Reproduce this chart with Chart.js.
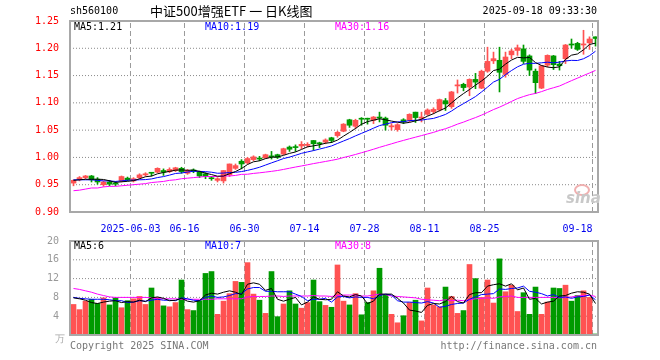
<!DOCTYPE html>
<html><head><meta charset="utf-8">
<script src="https://cdn.jsdelivr.net/npm/chart.js@4.4.1/dist/chart.umd.min.js"></script>
<style>
html,body{margin:0;padding:0;background:#fff;width:660px;height:360px;overflow:hidden;}
#wrap{position:relative;width:660px;height:360px;}
canvas{position:absolute;left:0;}
.t{position:absolute;font:10px "DejaVu Sans Mono",monospace;white-space:nowrap;line-height:12px;color:#000;}
</style></head><body>
<div id="wrap">
<canvas id="main" width="660" height="232" style="top:0px"></canvas>
<canvas id="vol" width="660" height="112" style="top:232px"></canvas>
<div class="t" style="left:70px;top:5px">sh560100</div>
<div class="t" style="left:150px;top:3px;font:13px 'Noto Sans CJK SC',sans-serif;line-height:16px">中证500增强ETF 一 日K线图</div>
<div class="t" style="right:63px;top:5px">2025-09-18 09:33:30</div>
<div class="t" style="left:74px;top:21px">MA5:1.21</div>
<div class="t" style="left:205px;top:21px;color:#0000ff">MA10:1.19</div>
<div class="t" style="left:335px;top:21px;color:#ff00ff">MA30:1.16</div>
<div class="t" style="left:74px;top:240px">MA5:6</div>
<div class="t" style="left:205px;top:240px;color:#0000ff">MA10:7</div>
<div class="t" style="left:335px;top:240px;color:#ff00ff">MA30:8</div>
<div class="t" style="left:55px;top:333px;color:#aaa">万</div>
<div class="t" style="left:70px;top:340px;color:#777">Copyright 2025 SINA.COM</div>
<div class="t" style="right:63px;top:340px;color:#777">http://finance.sina.com.cn</div>
<div style="position:absolute;left:574px;top:184px;width:12px;height:8px;border:2px solid #f0b0b0;border-radius:50%"></div>
<div class="t" style="left:566px;top:190px;font:italic bold 15px 'DejaVu Sans',sans-serif;line-height:16px;color:#c8c8c8">sina</div>
</div>
<script>
const tickIndex = [10,19,29,39,49,59,69,87];
const tickLabels = ['2025-06-03','06-16','06-30','07-14','07-28','08-11','08-25','09-18'];
const priceTicks = [0.90,0.95,1.00,1.05,1.10,1.15,1.20,1.25];
const volTicks = [0,4,8,12,16,20];

const open = [0.953,0.960,0.963,0.966,0.960,0.950,0.955,0.953,0.957,0.962,0.957,0.963,0.968,0.972,0.973,0.976,0.974,0.976,0.980,0.971,0.977,0.973,0.970,0.962,0.958,0.957,0.968,0.980,0.993,0.990,0.996,0.998,0.999,1.002,1.005,1.006,1.019,1.019,1.021,1.022,1.031,1.026,1.028,1.036,1.040,1.048,1.069,1.057,1.071,1.071,1.068,1.074,1.072,1.056,1.051,1.069,1.068,1.083,1.072,1.079,1.084,1.087,1.104,1.093,1.131,1.134,1.129,1.143,1.127,1.158,1.177,1.178,1.152,1.188,1.196,1.199,1.186,1.158,1.127,1.169,1.186,1.171,1.181,1.207,1.209,1.206,1.210,1.221];
const high = [0.959,0.965,0.967,0.967,0.963,0.957,0.958,0.956,0.966,0.964,0.963,0.970,0.972,0.972,0.981,0.979,0.981,0.982,0.982,0.978,0.979,0.975,0.972,0.965,0.963,0.976,0.988,0.988,0.996,1.000,1.003,1.002,1.006,1.011,1.006,1.017,1.021,1.023,1.029,1.027,1.031,1.028,1.034,1.037,1.048,1.062,1.070,1.070,1.073,1.072,1.075,1.083,1.074,1.062,1.062,1.071,1.080,1.083,1.083,1.089,1.091,1.107,1.108,1.121,1.142,1.136,1.144,1.154,1.160,1.202,1.193,1.202,1.193,1.198,1.206,1.206,1.188,1.162,1.169,1.188,1.187,1.176,1.207,1.217,1.211,1.233,1.221,1.221];
const low = [0.948,0.957,0.961,0.955,0.951,0.947,0.948,0.948,0.955,0.957,0.955,0.961,0.966,0.966,0.972,0.967,0.972,0.974,0.971,0.969,0.972,0.963,0.961,0.958,0.955,0.953,0.965,0.978,0.979,0.988,0.994,0.994,0.998,0.997,0.998,1.005,1.011,1.011,1.016,1.019,1.013,1.018,1.025,1.027,1.037,1.047,1.055,1.053,1.059,1.061,1.062,1.065,1.050,1.050,1.048,1.062,1.065,1.064,1.065,1.077,1.080,1.085,1.086,1.090,1.118,1.122,1.113,1.126,1.126,1.156,1.172,1.120,1.147,1.181,1.187,1.172,1.150,1.117,1.126,1.166,1.161,1.160,1.172,1.200,1.196,1.189,1.198,1.204];
const close = [0.958,0.963,0.966,0.959,0.955,0.955,0.951,0.951,0.965,0.959,0.961,0.968,0.970,0.971,0.980,0.973,0.978,0.981,0.974,0.976,0.975,0.966,0.965,0.961,0.961,0.976,0.988,0.985,0.988,0.998,1.001,0.997,1.005,1.001,1.000,1.016,1.015,1.018,1.024,1.024,1.025,1.025,1.032,1.031,1.046,1.061,1.059,1.068,1.070,1.070,1.074,1.072,1.059,1.058,1.060,1.065,1.079,1.073,1.074,1.087,1.088,1.106,1.098,1.120,1.133,1.128,1.143,1.138,1.158,1.176,1.181,1.156,1.184,1.195,1.201,1.176,1.160,1.137,1.168,1.187,1.170,1.168,1.206,1.206,1.198,1.208,1.217,1.218];
const ma5 = [0.958,0.959,0.960,0.960,0.9602,0.9596,0.9572,0.9542,0.9554,0.9562,0.9574,0.9608,0.9646,0.9658,0.9700,0.9724,0.9744,0.9766,0.9772,0.9764,0.9768,0.9744,0.9712,0.9686,0.9656,0.9658,0.9702,0.9742,0.9796,0.9870,0.9920,0.9938,0.9978,1.0004,1.0008,1.0038,1.0074,1.0100,1.0146,1.0194,1.0212,1.0232,1.0260,1.0274,1.0318,1.0390,1.0458,1.0530,1.0608,1.0656,1.0682,1.0708,1.0690,1.0666,1.0646,1.0628,1.0642,1.0670,1.0702,1.0756,1.0802,1.0856,1.0906,1.0998,1.1090,1.1170,1.1244,1.1324,1.1400,1.1486,1.1592,1.1618,1.1710,1.1784,1.1834,1.1824,1.1832,1.1738,1.1684,1.1656,1.1644,1.1660,1.1798,1.1874,1.1896,1.1972,1.2070,1.2094];
const ma10 = [0.959,0.959,0.959,0.959,0.958,0.957,0.957,0.956,0.957,0.9582,0.9585,0.9590,0.9594,0.9606,0.9631,0.9649,0.9676,0.9706,0.9715,0.9732,0.9746,0.9744,0.9739,0.9729,0.9710,0.9713,0.9723,0.9727,0.9741,0.9763,0.9789,0.9820,0.9860,0.9900,0.9939,0.9979,1.0006,1.0039,1.0075,1.0101,1.0125,1.0153,1.0180,1.0210,1.0256,1.0301,1.0345,1.0395,1.0441,1.0487,1.0536,1.0583,1.0610,1.0637,1.0651,1.0655,1.0675,1.0680,1.0684,1.0701,1.0715,1.0749,1.0788,1.0850,1.0923,1.0986,1.1050,1.1115,1.1199,1.1288,1.1381,1.1431,1.1517,1.1592,1.1660,1.1708,1.1725,1.1724,1.1734,1.1745,1.1734,1.1746,1.1768,1.1779,1.1776,1.1808,1.1865,1.1946];
const ma30 = [0.939,0.940,0.942,0.944,0.944,0.946,0.947,0.947,0.948,0.949,0.950,0.951,0.952,0.954,0.955,0.956,0.958,0.959,0.961,0.962,0.963,0.964,0.965,0.965,0.965,0.966,0.966,0.967,0.969,0.9692,0.9707,0.9718,0.9731,0.9745,0.9760,0.9780,0.9802,0.9824,0.9844,0.9865,0.9887,0.9906,0.9926,0.9946,0.9968,0.9998,1.0025,1.0054,1.0086,1.0117,1.0150,1.0185,1.0217,1.0249,1.0282,1.0312,1.0342,1.0371,1.0400,1.0430,1.0459,1.0495,1.0526,1.0566,1.0610,1.0647,1.0690,1.0730,1.0775,1.0825,1.0877,1.0921,1.0972,1.1026,1.1078,1.1116,1.1150,1.1173,1.1206,1.1245,1.1277,1.1309,1.1358,1.1407,1.1453,1.1501,1.1547,1.1595];

const volume = [6.5,5.4,7.2,7.6,6.7,7.9,6.4,7.9,5.8,7.3,7.7,8.2,6.5,10.0,8.0,6.2,6.0,6.9,11.7,5.4,5.2,7.3,13.1,13.5,4.4,7.2,8.8,11.4,11.2,15.4,8.7,7.4,4.6,13.5,3.9,6.6,9.4,6.6,5.7,6.9,11.7,7.1,6.3,5.9,14.9,7.2,6.4,8.8,4.3,6.9,9.4,14.2,8.6,4.4,2.6,4.1,6.9,7.4,3.0,10.0,6.4,6.0,10.2,8.2,4.6,5.2,15.0,12.0,8.0,11.7,6.8,16.2,9.2,10.6,5.0,9.0,4.4,10.2,4.4,7.0,10.0,9.9,10.6,7.2,8.4,9.4,8.0,0.2];
const volMa5 = [7.9,7.7,7.4,6.9,6.7,7.0,7.2,7.3,6.9,7.1,7.0,7.4,7.1,7.9,8.1,7.8,7.3,7.4,7.8,7.2,7.0,7.3,8.5,8.9,8.7,9.1,9.4,9.1,8.6,10.8,11.1,10.8,9.5,9.9,7.6,7.2,7.6,8.0,6.4,7.0,8.1,7.6,7.5,7.6,9.2,8.3,8.1,8.6,8.3,6.7,7.2,8.7,8.7,8.7,7.8,6.8,5.3,5.1,4.8,6.3,6.7,6.6,7.1,8.2,7.1,6.8,8.6,9.0,9.0,10.4,10.7,10.9,10.4,10.9,9.6,10.0,7.6,7.8,6.6,7.0,7.2,8.3,8.4,8.9,9.2,9.1,8.7,6.7];
const volMa10 = [8.0,7.8,7.7,7.6,7.6,7.6,7.5,7.3,7.3,6.9,7.0,7.3,7.2,7.4,7.6,7.4,7.4,7.3,7.9,7.7,7.4,7.3,8.0,8.3,8.0,8.1,8.4,8.8,8.8,9.8,10.1,10.1,9.3,9.3,9.2,9.2,9.2,8.7,8.2,7.3,7.6,7.6,7.8,7.0,8.1,8.2,7.9,8.1,8.0,8.0,7.7,8.4,8.7,8.5,7.3,7.0,7.0,6.9,6.8,7.1,6.8,5.9,6.1,6.5,6.7,6.8,7.6,8.1,8.6,8.7,8.8,9.8,9.7,9.9,10.0,10.4,9.3,9.1,8.8,8.3,8.6,8.0,8.1,7.8,8.1,8.2,8.5,7.5];
const volMa30 = [9.9,9.7,9.4,9.1,8.7,8.4,8.1,8.0,8.0,8.0,8.0,8.0,8.0,7.9,7.7,7.7,7.7,7.7,7.6,7.6,7.6,7.6,7.6,7.6,7.7,7.7,7.7,7.7,7.7,8.1,8.2,8.2,8.2,8.3,8.3,8.2,8.3,8.3,8.3,8.3,8.4,8.3,8.3,8.2,8.4,8.5,8.5,8.5,8.3,8.3,8.5,8.7,8.6,8.3,8.2,8.1,8.0,7.9,7.6,7.5,7.4,7.3,7.5,7.3,7.4,7.3,7.5,7.7,7.8,7.9,7.8,8.1,8.2,8.3,8.0,8.0,8.0,8.0,8.0,8.0,8.0,7.9,8.0,8.1,8.3,8.4,8.5,8.2];

const RED = '#ff5252', GREEN = '#009a00';
const candleColor = close.map((c, i) => c >= open[i] ? RED : GREEN);
const XMIN = -0.58333, XMAX = 87.41667;
const FONT = {family: "'DejaVu Sans Mono', monospace", size: 10};

const pts = arr => arr.map((v, i) => ({x: i, y: v}));
const line = (arr, color) => ({type: 'line', data: pts(arr), borderColor: color, borderWidth: 1, pointRadius: 0, tension: 0, fill: false, order: 0});

// grid lines as library line datasets placed on the tick values (drawn behind everything)
function gridSets(yTicksArr, yMin, yMax) {
  const sets = [];
  tickIndex.forEach(k => sets.push({type: 'line', data: [{x: k - 0.5, y: yMin}, {x: k - 0.5, y: yMax}],
    borderColor: '#9a9a9a', borderWidth: 1, borderDash: [5, 3], pointRadius: 0, fill: false, order: 9}));
  yTicksArr.slice(1, -1).forEach(v => sets.push({type: 'line', data: [{x: XMIN, y: v}, {x: XMAX, y: v}],
    borderColor: '#8a8a8a', borderWidth: 1, borderDash: [1, 2], pointRadius: 0, fill: false, order: 9}));
  return sets;
}

const frame = {
  id: 'frame',
  afterDraw(c) {
    const a = c.chartArea, g = c.ctx;
    g.save(); g.strokeStyle = '#a8a8a8'; g.lineWidth = 2; g.setLineDash([]);
    g.strokeRect(a.left, a.top, a.right - a.left, a.bottom - a.top);
    g.restore();
  }
};

function xScale(showLabels) {
  return {
    type: 'linear', min: XMIN, max: XMAX, bounds: 'data', offset: false,
    afterBuildTicks(s) { s.ticks = [{value: XMIN}].concat(tickIndex.map(k => ({value: k - 0.5}))); },
    afterFit(s) { s.height = showLabels ? 20 : 0; },
    ticks: {display: showLabels, autoSkip: false, maxRotation: 0, minRotation: 0, align: 'inner', padding: 3,
      color: '#0000ee', font: FONT, callback: (v, i) => i === 0 ? '' : tickLabels[i - 1]},
    grid: {display: false},
    border: {display: false}
  };
}
function yScale(min, max, ticksArr, color, fmt) {
  return {
    min: min, max: max, bounds: 'data',
    afterBuildTicks(s) { s.ticks = ticksArr.map(v => ({value: v})); },
    afterFit(s) { s.width = 70; },
    ticks: {autoSkip: false, padding: 3, color: color, font: FONT, callback: fmt},
    grid: {display: false},
    border: {display: false}
  };
}

new Chart(document.getElementById('main'), {
  type: 'bar',
  data: {datasets: [
    line(ma5, '#000000'),
    line(ma10, '#0000ff'),
    line(ma30, '#ff00ff'),
    {type: 'bar', data: open.map((o, i) => ({x: i, y: [o, close[i]]})), backgroundColor: candleColor,
     barThickness: 5, minBarLength: 1, grouped: false, order: 1},
    {type: 'bar', data: low.map((l, i) => ({x: i, y: [l, high[i]]})), backgroundColor: candleColor,
     barThickness: 1, minBarLength: 1, grouped: false, order: 2}
  ].concat(gridSets(priceTicks, 0.90, 1.25))},
  options: {
    responsive: false, animation: false, devicePixelRatio: 1,
    layout: {padding: {left: 0, right: 62, top: 21, bottom: 0}},
    plugins: {legend: {display: false}, tooltip: {enabled: false}},
    scales: {
      x: xScale(true),
      y: yScale(0.90, 1.25, priceTicks, '#ff0000', v => Number(v).toFixed(2))
    }
  },
  plugins: [frame]
});

new Chart(document.getElementById('vol'), {
  type: 'bar',
  data: {datasets: [
    line(volMa5, '#000000'),
    line(volMa10, '#0000ff'),
    line(volMa30, '#ff00ff'),
    {type: 'bar', data: pts(volume), backgroundColor: candleColor, barThickness: 5, minBarLength: 1, grouped: false, order: 1}
  ].concat(gridSets(volTicks, 0, 20))},
  options: {
    responsive: false, animation: false, devicePixelRatio: 1,
    layout: {padding: {left: 0, right: 62, top: 8, bottom: 4}},
    plugins: {legend: {display: false}, tooltip: {enabled: false}},
    scales: {
      x: xScale(false),
      y: yScale(0, 20, volTicks, '#999999', v => v === 0 ? '' : String(v))
    }
  },
  plugins: [frame]
});
</script>
</body></html>
